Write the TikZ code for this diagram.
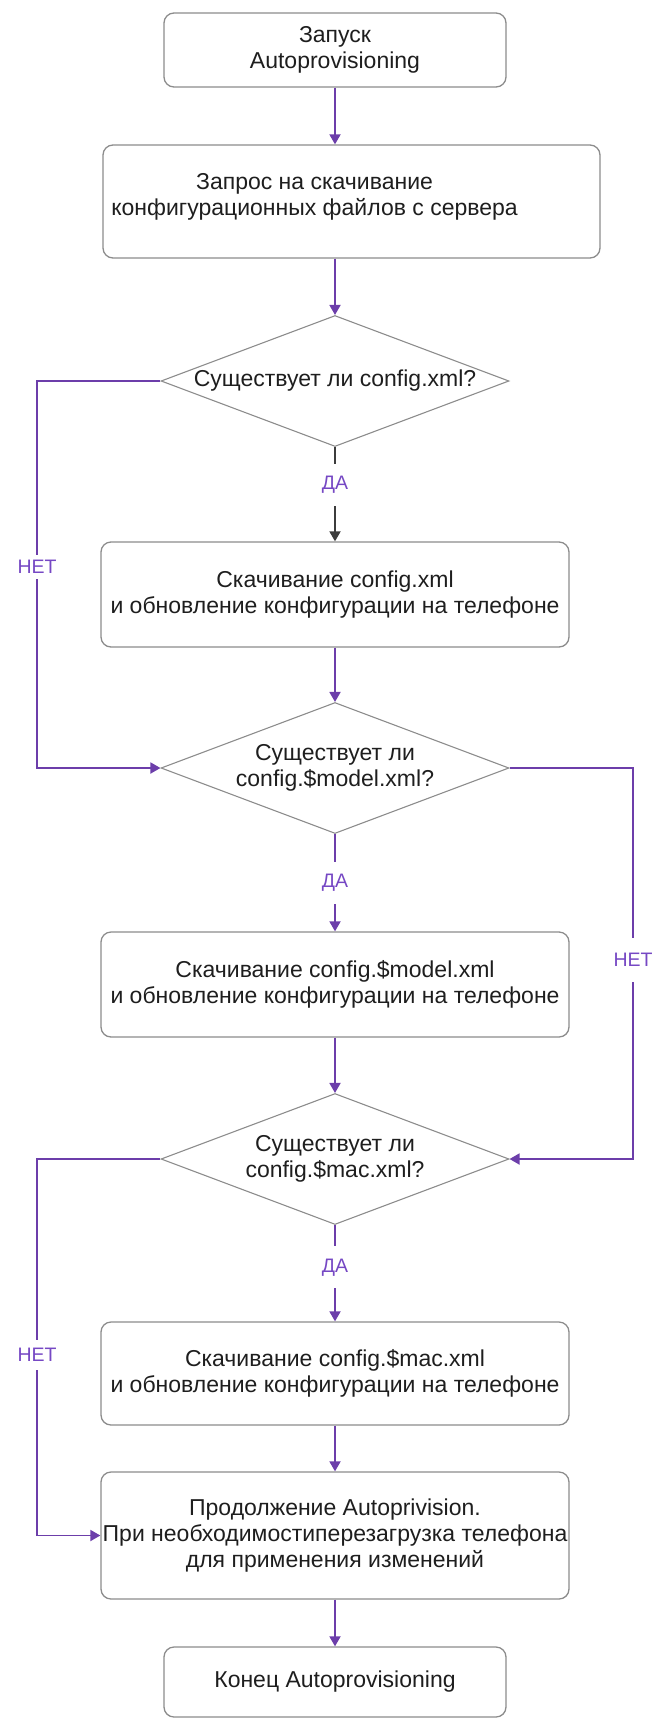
\documentclass[tikz,border=0pt]{standalone}
\usepackage{fontspec}
\setmainfont{Liberation Sans}
\usetikzlibrary{shapes.geometric,arrows.meta}
\definecolor{flow}{RGB}{108,62,170}
\definecolor{lbl}{RGB}{118,72,196}
\definecolor{edgegray}{RGB}{140,140,140}
\definecolor{ink}{RGB}{30,30,30}
\definecolor{darkflow}{RGB}{60,60,60}
\begin{document}
\begin{tikzpicture}[x=1pt,y=-1pt,
  box/.style={draw=edgegray, line width=1.3pt, rounded corners=10pt, align=center, text=ink, font=\fontsize{23}{26}\selectfont, inner sep=0pt},
  dia/.style={diamond, draw=edgegray, line width=1.1pt, inner sep=0pt, minimum width=348pt, minimum height=131pt},
  dtext/.style={align=center, text=ink, font=\fontsize{23}{26}\selectfont, inner sep=0pt},
  arr/.style={draw=flow, line width=1.8pt, -{Triangle[width=11pt,length=10pt]}},
  arrdark/.style={draw=darkflow, line width=1.8pt, -{Triangle[width=11pt,length=10pt]}},
  yes/.style={fill=white, text=lbl, font=\fontsize{19.5}{20}\selectfont, inner xsep=2pt, inner ysep=0pt, minimum height=42pt},
  no/.style={fill=white, text=lbl, font=\fontsize{19.5}{20}\selectfont, inner xsep=2pt, inner ysep=0pt},
]
\useasboundingbox (0,0) rectangle (653,1719);

\node[box, minimum width=342pt, minimum height=74pt] (start) at (335,50) {Запуск\\Autoprovisioning};
\node[box, minimum width=497pt, minimum height=113pt,
  label={[dtext, xshift=-37pt, yshift=5pt]center:Запрос на скачивание\\конфигурационных файлов с сервера}] (req) at (351.5,201.5) {};
\node[dia, label={[dtext]center:Существует ли config.xml?}] (d1) at (335,381) {};
\node[box, minimum width=468pt, minimum height=105pt] (cfg) at (335,594.5) {Скачивание config.xml\\и обновление конфигурации на телефоне};
\node[dia, label={[dtext]center:Существует ли\\config.\$model.xml?}] (d2) at (335,768) {};
\node[box, minimum width=468pt, minimum height=105pt] (model) at (335,984.5) {Скачивание config.\$model.xml\\и обновление конфигурации на телефоне};
\node[dia, label={[dtext]center:Существует ли\\config.\$mac.xml?}] (d3) at (335,1159) {};
\node[box, minimum width=468pt, minimum height=103pt] (mac) at (335,1373.5) {Скачивание config.\$mac.xml\\и обновление конфигурации на телефоне};
\node[box, minimum width=468pt, minimum height=127pt] (cont) at (335,1535.5) {Продолжение Autoprivision.\\При необходимостиперезагрузка телефона\\для применения изменений};
\node[box, minimum width=342pt, minimum height=70pt] (end) at (335,1682) {Конец Autoprovisioning};

\coordinate (lx) at (37,0);
\coordinate (rx) at (633,0);

\draw[arr] (start.south) -- (start.south |- req.north);
\draw[arr] (req.south -| d1.north) -- (d1.north);
\draw[arrdark] (d1.south) -- node[yes, pos=0.4] {ДА} (d1.south |- cfg.north);
\draw[arr] (cfg.south) -- (d2.north);
\draw[arr] (d2.south) -- node[yes, pos=0.5] {ДА} (d2.south |- model.north);
\draw[arr] (model.south) -- (d3.north);
\draw[arr] (d3.south) -- node[yes, pos=0.44] {ДА} (d3.south |- mac.north);
\draw[arr] (mac.south) -- (cont.north);
\draw[arr] (cont.south) -- (end.north);

\draw[arr] (d1.west) -| node[no, pos=0.74, minimum height=24pt] {НЕТ} (lx |- d2.west) -- (d2.west);
\draw[arr] (d2.east) -| node[no, pos=0.745, minimum height=44pt] {НЕТ} (rx |- d3.east) -- (d3.east);
\draw[arr] (d3.west) -| node[no, pos=0.76, minimum height=30pt] {НЕТ} (lx |- cont.west) -- (cont.west);
\end{tikzpicture}
\end{document}
